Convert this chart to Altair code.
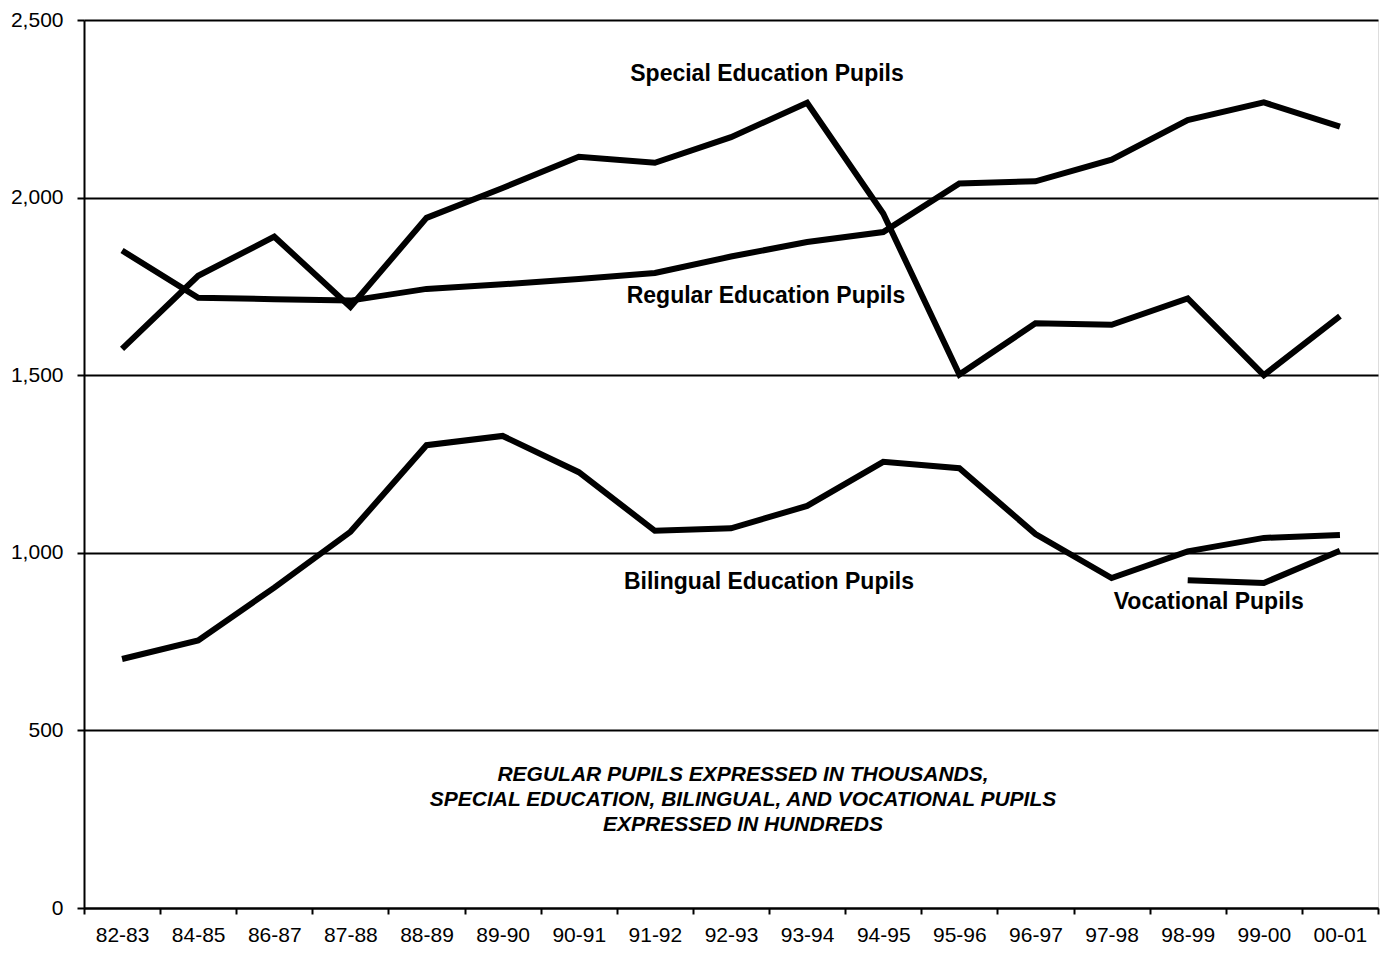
import altair as alt
import pandas as pd

years = ["82-83", "84-85", "86-87", "87-88", "88-89", "89-90", "90-91", "91-92",
         "92-93", "93-94", "94-95", "95-96", "96-97", "97-98", "98-99", "99-00", "00-01"]

special = [1574, 1780, 1890, 1692, 1943, 2027, 2115, 2098, 2170, 2267, 1955,
           1502, 1646, 1642, 1716, 1500, 1666]
regular = [1851, 1718, 1714, 1710, 1743, 1756, 1771, 1788, 1834, 1875, 1903,
           2040, 2046, 2107, 2218, 2268, 2200]
bilingual = [701, 753, 902, 1059, 1303, 1329, 1227, 1062, 1069, 1132, 1256,
             1238, 1053, 929, 1004, 1042, 1050]
vocational = [None] * 14 + [923, 915, 1006]

series_names = ["Special Education Pupils", "Regular Education Pupils",
                "Bilingual Education Pupils", "Vocational Pupils"]
series_values = [special, regular, bilingual, vocational]

label_text = series_names
label_year = ["92-93", "92-93", "92-93", "98-99"]
label_value = [2348, 1723, 918, 861]
label_dx = [36, 35, 38, 21]

note_lines = ["REGULAR PUPILS EXPRESSED IN THOUSANDS,",
              "SPECIAL EDUCATION, BILINGUAL, AND VOCATIONAL PUPILS",
              "EXPRESSED IN HUNDREDS"]
note_year = "92-93"
note_value = 374
note_dx = 12

y_ticks = [0, 500, 1000, 1500, 2000, 2500]

rows = []
for name, vals in zip(series_names, series_values):
    for yr, v in zip(years, vals):
        if v is not None:
            rows.append({"year": yr, "value": v, "series": name})
df = pd.DataFrame(rows)

labels_df = pd.DataFrame({"year": label_year, "value": label_value,
                          "text": label_text, "dx": label_dx})
note_df = pd.DataFrame({"year": [note_year], "value": [note_value],
                        "text": [note_lines]})

FONT = "Liberation Sans"

xenc = alt.X("year:N", sort=years, bandPosition=0.5,
             scale=alt.Scale(type="band", paddingInner=0, paddingOuter=0),
             axis=alt.Axis(title=None, labelAngle=0, tickBand="extent",
                           labelFontSize=21, labelFont=FONT, labelColor="black",
                           tickColor="black", tickWidth=2, tickSize=6,
                           labelPadding=10, domainColor="black", domainWidth=2,
                           grid=False))
yenc = alt.Y("value:Q",
             scale=alt.Scale(domain=[0, 2500], nice=False),
             axis=alt.Axis(title=None, values=y_ticks, format=",d",
                           labelFontSize=21, labelFont=FONT, labelColor="black",
                           tickColor="black", tickWidth=2, tickSize=7,
                           labelPadding=14, domainColor="black", domainWidth=2,
                           grid=True, gridColor="black", gridWidth=2,
                           gridOpacity=1))

lines = alt.Chart(df).mark_line(color="black", strokeWidth=6,
                                strokeJoin="miter", strokeCap="butt").encode(
    x=xenc, y=yenc, detail="series:N")

texts = []
for i in range(len(label_text)):
    sub = labels_df.iloc[[i]]
    texts.append(alt.Chart(sub).mark_text(
        font=FONT, fontSize=23, fontWeight="bold", color="black",
        align="center", baseline="middle", dx=int(label_dx[i])).encode(
        x=alt.X("year:N", sort=years, bandPosition=0.5),
        y="value:Q", text="text:N"))

note = alt.Chart(note_df).mark_text(
    font=FONT, fontSize=21, fontWeight="bold", fontStyle="italic",
    color="black", align="center", baseline="middle", lineHeight=25,
    dx=note_dx).encode(
    x=alt.X("year:N", sort=years, bandPosition=0.5),
    y="value:Q", text="text")

chart = alt.layer(lines, *texts, note).properties(
    width=1294, height=888,
    autosize=alt.AutoSizeParams(type="none"),
    padding={"left": 76, "top": 12, "right": 2, "bottom": 36},
).configure_view(stroke="black", strokeWidth=2).configure(background="white")

chart.save("out.html", embed_options={"renderer": "svg", "actions": False})
